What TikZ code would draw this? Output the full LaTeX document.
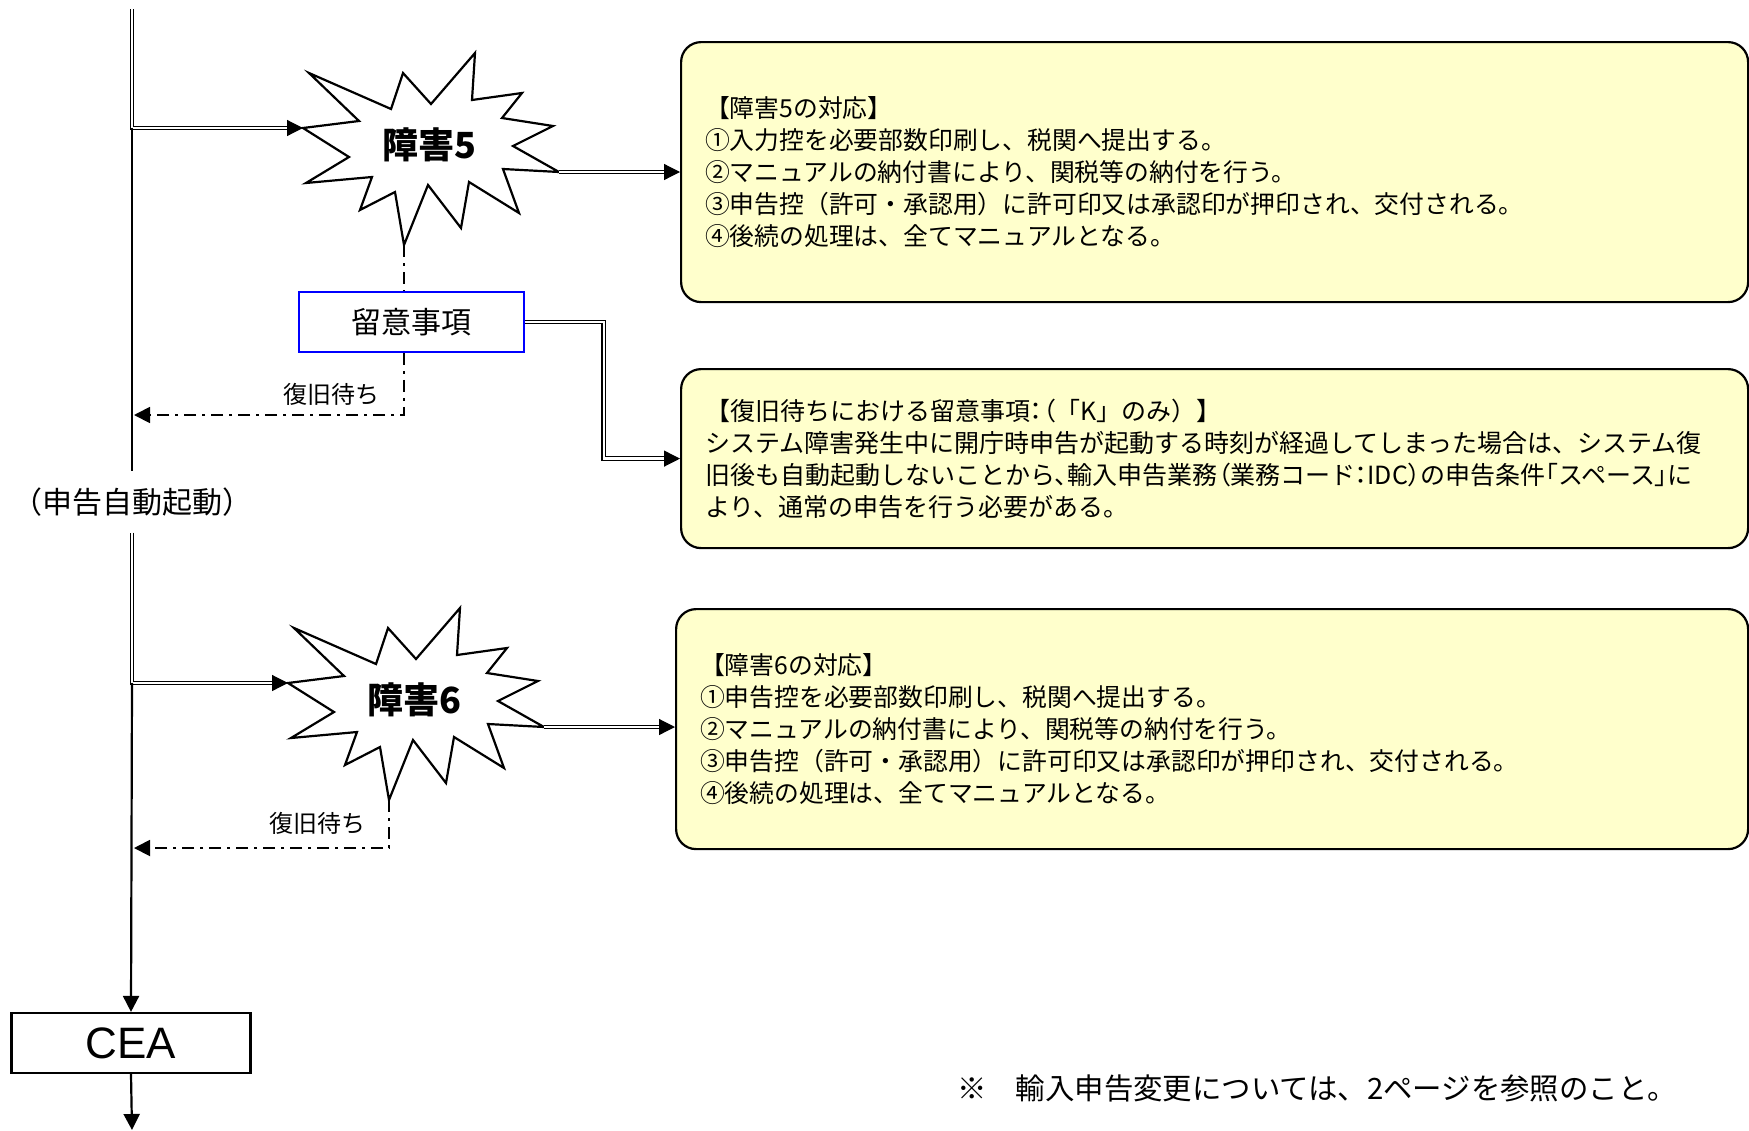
\documentclass[tikz,border=0pt]{standalone}
\usepackage{fontspec}
\setmainfont{Noto Sans CJK JP}
\newfontfamily\arialfont{Liberation Sans}
\newfontfamily\pfont{Noto Sans CJK JP}[RawFeature=+palt]
\newcommand\hw[1]{{\pfont #1}}
\usetikzlibrary{arrows.meta}
\definecolor{kiiro}{HTML}{FFFFCC}
\begin{document}
\begin{tikzpicture}[x=0.5pt,y=-0.5pt,>={Triangle[length=8pt,width=8pt]},line join=miter,
	ln/.style={line width=1.1pt},
	dl/.style={double,double distance=1.2pt,line width=0.6pt},
	dd/.style={line width=0.9pt,dash pattern=on 6pt off 3pt on 1.5pt off 3pt},
	kbox/.style={draw,line width=1.1pt,fill=kiiro,rounded corners=10pt,anchor=north west,align=left,inner xsep=12pt,minimum height=#1},
	burst/.style={draw,line width=1.1pt,fill=white}]
		\useasboundingbox (0,0) rectangle (1749,1130);
		\path%points
		(132,9) coordinate (top)
		(134,415) coordinate (w5)
		(134,848) coordinate (w6)
		(132,1130) coordinate (bot);
		\foreach \n/\dx/\dy in {5/0/0,6/-15/555}{
			\begin{scope}[shift={(\dx,\dy)}]
			\draw[burst] (303,128) coordinate (s\n-l)--(359,121)--(309,73)--(391,109)--(403,73)--(431,104)--(475,53)--(472,100)--(522,93)--(502,118)--(553,126)--(513,146)--(559,172) coordinate (s\n-r)--(503,169)--(519,213)--(469,182)--(461,228)--(428,185)--(404,245) coordinate (s\n-b)--(395,192)--(360,210)--(372,177)--(306,183)--(349,157)--cycle;
			\node[font=\fontsize{18}{18}\selectfont\bfseries] (t\n) at (429,145) {障害\n};
			\end{scope}}
		\node[font=\fontsize{15}{15}\selectfont,inner ysep=8pt] (auto) at (132,502) {（申告自動起動）};
		\node[draw,ln,minimum width=119.5pt,minimum height=30pt,font=\arialfont\fontsize{22}{22}\selectfont] (cea) at (131,1043) {CEA};
		\node[draw=blue,line width=0.8pt,minimum width=112.5pt,minimum height=30pt,font=\fontsize{15}{15}\selectfont] (note) at (411.5,322) {留意事項};
		\node[font=\fontsize{12}{12}\selectfont] (m5) at (331,394) {復旧待ち};
		\node[font=\fontsize{12}{12}\selectfont] (m6) at (317,823) {復旧待ち};
		\node[kbox=130pt,text width=509.5pt,font=\fontsize{12.4}{16}\selectfont] (box5) at (680,41) {【障害5の対応】\\①入力控を必要部数印刷し、税関へ提出する。\\②マニュアルの納付書により、関税等の納付を行う。\\③申告控（許可・承認用）に許可印又は承認印が押印され、交付される。\\④後続の処理は、全てマニュアルとなる。};
		\node[kbox=89.5pt,text width=509.5pt,font=\fontsize{12.5}{16}\selectfont] (memo) at (680,368) {【復旧待ちにおける留意事項\hw{：（}「K」のみ）】\\システム障害発生中に開庁時申告が起動する時刻が経過してしまった場合は、システム復\\旧後も自動起動しないことから\hw{、}輸入申告業務\hw{（}業務コード\hw{：}IDC\hw{）}の申告条件\hw{「}スペース\hw{」}に\\より、通常の申告を行う必要がある。};
		\node[kbox=120pt,text width=512pt,font=\fontsize{12.4}{16}\selectfont] (box6) at (675,608) {【障害6の対応】\\①申告控を必要部数印刷し、税関へ提出する。\\②マニュアルの納付書により、関税等の納付を行う。\\③申告控（許可・承認用）に許可印又は承認印が押印され、交付される。\\④後続の処理は、全てマニュアルとなる。};
		\node[anchor=west,font=\fontsize{14.7}{14.7}\selectfont] (ref) at (950,1088) {※　輸入申告変更については、2ページを参照のこと。};
		\draw[dl,->] (top) |- (s5-l);
		\draw[ln] (top |- s5-l) -- (auto.north);
		\draw[dl,->] (auto.south) |- (s6-l);
		\draw[ln,->] (auto.south |- s6-l) -- (cea.north);
		\draw[ln,->] (cea.south) -- (bot);
		\draw[dl,->] (s5-r) -- (s5-r -| box5.west);
		\draw[dl,->] (s6-r) -- (s6-r -| box6.west);
		\draw[dl,->] (note.east) -- ++(79,0) |- (memo.west);
		\draw[dd] (s5-b) -- (s5-b |- note.north);
		\draw[dd,->] (s5-b |- note.south) |- (w5);
		\draw[dd,->] (s6-b) |- (w6);
\end{tikzpicture}
\end{document}
